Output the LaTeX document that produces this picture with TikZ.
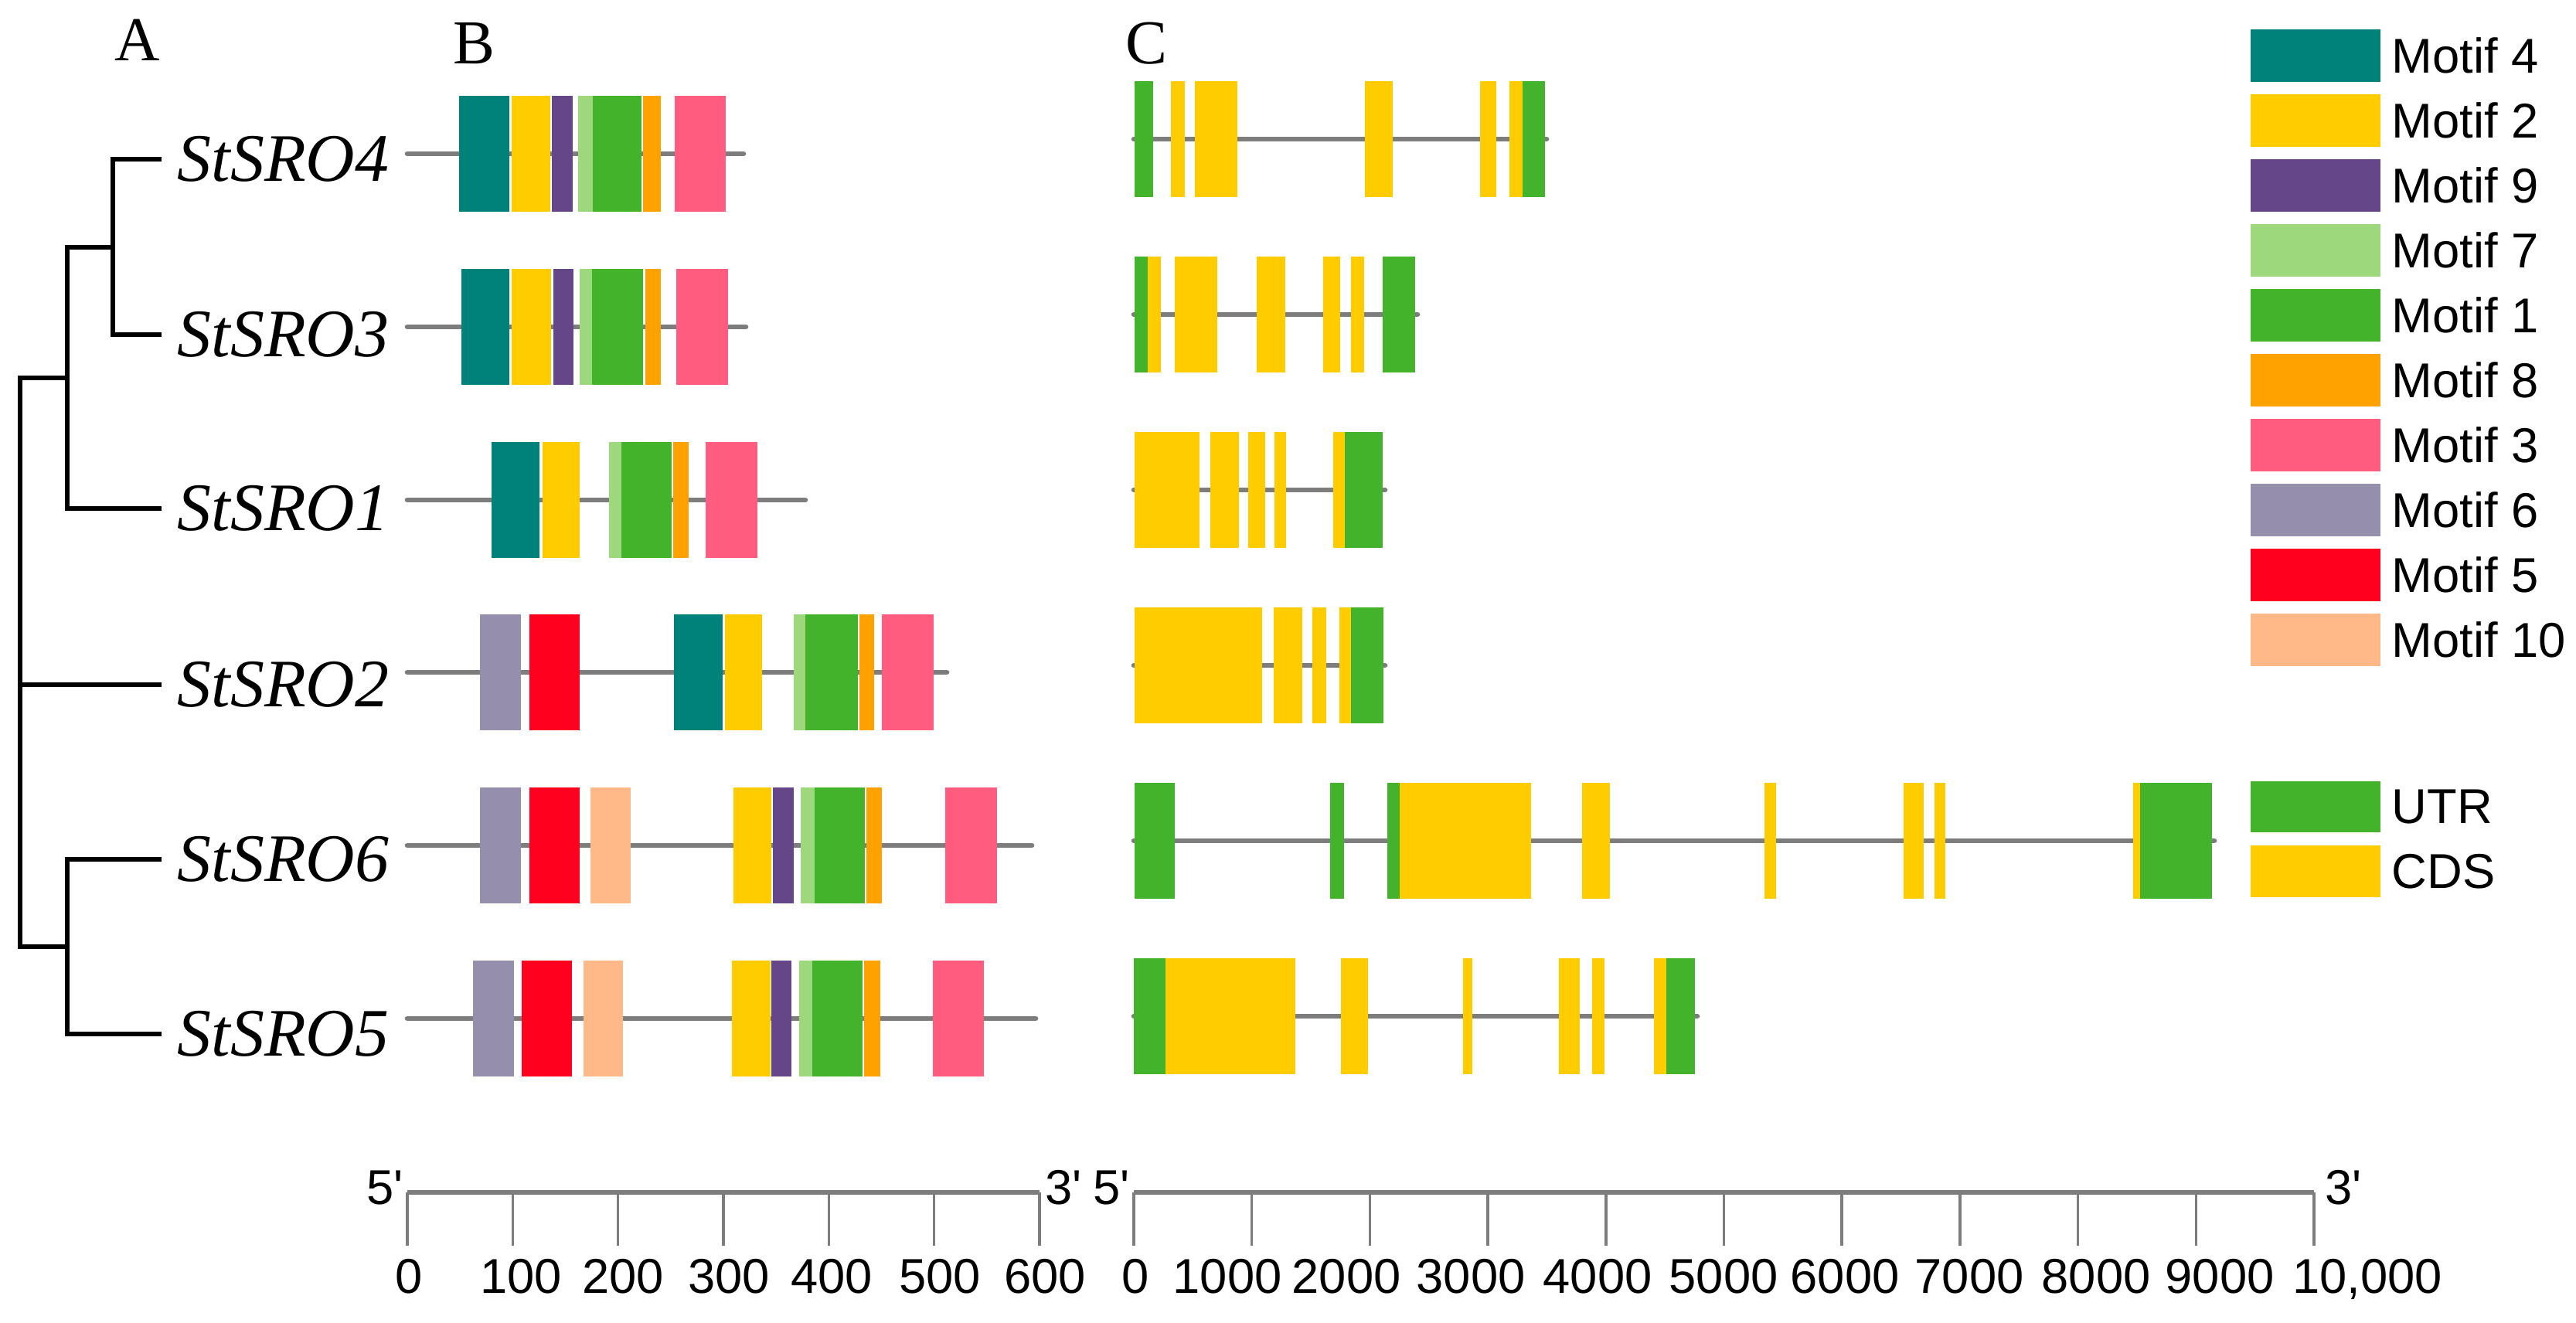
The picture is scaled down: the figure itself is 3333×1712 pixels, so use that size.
\documentclass[tikz,border=0pt]{standalone}
\usepackage{fontspec}
\setmainfont{Liberation Serif}
\setsansfont{Liberation Sans}

\definecolor{motif1}{RGB}{66,179,42}
\definecolor{motif2}{RGB}{255,204,0}
\definecolor{motif3}{RGB}{255,92,128}
\definecolor{motif4}{RGB}{0,130,122}
\definecolor{motif5}{RGB}{255,0,30}
\definecolor{motif6}{RGB}{149,142,172}
\definecolor{motif7}{RGB}{158,216,124}
\definecolor{motif8}{RGB}{255,162,0}
\definecolor{motif9}{RGB}{101,70,136}
\definecolor{motif10}{RGB}{255,185,137}
\definecolor{utr}{RGB}{66,179,42}
\definecolor{cds}{RGB}{255,204,0}
\definecolor{lineGray}{RGB}{125,125,125}

\begin{document}
\begin{tikzpicture}[x=0.01cm,y=-0.01cm,
    branch/.style={line width=1.6pt,line join=miter},
    gene label/.style={anchor=west,inner xsep=0.2cm,inner ysep=0pt,
        font=\fontsize{25}{30}\selectfont\itshape},
    gene line/.style={line width=1.9pt,lineGray,line cap=round},
    panel tag/.style={anchor=base,inner sep=0pt,font=\fontsize{23}{28}\selectfont},
    sans text/.style={inner sep=0pt,font=\fontsize{18}{22}\selectfont\sffamily},
    axis line/.style={line width=1.7pt,lineGray},
    tick line/.style={line width=1pt,lineGray}]

 \fill[white] (0,0) rectangle (3333,1712);
 \useasboundingbox (0,0) rectangle (3333,1712);

 % panel tags
 \node[panel tag] (tagA) at (178,78) {A};
 \node[panel tag] (tagB) at (613,82) {B};
 \node[panel tag] (tagC) at (1483,82) {C};

 % A: tree
 \node[gene label] (l4) at (209,206) {StSRO4};
 \node[gene label] (l3) at (209,433) {StSRO3};
 \node[gene label] (l1) at (209,658) {StSRO1};
 \node[gene label] (l2) at (209,886) {StSRO2};
 \node[gene label] (l6) at (209,1112) {StSRO6};
 \node[gene label] (l5) at (209,1338) {StSRO5};

 \coordinate (n43) at (146,320);
 \coordinate (n431) at (87,489);
 \coordinate (n65) at (87,1225);
 \coordinate (root) at (26,857);

 \draw[branch] (l4.west) -| (n43) |- (l3.west);
 \draw[branch] (n43) -| (n431) |- (l1.west);
 \draw[branch] (n431) -| (root) |- (n65);
 \draw[branch] (root |- l2.west) -- (l2.west);
 \draw[branch] (l6.west) -| (n65) |- (l5.west);

 % B: motifs
 \foreach \y/\e/\segs in {
   199/962/{594/659/motif4,662/712/motif2,714/741/motif9,748/767/motif7,767/830/motif1,832/855/motif8,873/939/motif3},
   423/965/{597/659/motif4,662/713/motif2,716/742/motif9,750/766/motif7,766/832/motif1,835/855/motif8,875/942/motif3},
   647/1042/{636/698/motif4,702/750/motif2,788/804/motif7,804/869/motif1,871/891/motif8,913/980/motif3},
   870/1225/{621/674/motif6,685/750/motif5,872/935/motif4,938/986/motif2,1027/1042/motif7,1042/1110/motif1,1112/1131/motif8,1141/1208/motif3},
   1094/1335/{621/674/motif6,685/750/motif5,764/816/motif10,949/998/motif2,1000/1027/motif9,1036/1054/motif7,1054/1119/motif1,1121/1141/motif8,1223/1290/motif3},
   1318/1340/{612/665/motif6,675/740/motif5,755/806/motif10,947/997/motif2,998/1024/motif9,1034/1051/motif7,1051/1116/motif1,1118/1139/motif8,1207/1273/motif3}}{
   \draw[gene line] (527,\y) -- (\e,\y);
   \foreach \a/\b/\c in \segs \fill[\c] (\a,\y-75) rectangle (\b,\y+75);
 }

 % C: exons and introns
 \foreach \y/\e/\segs in {
   180/2001/{1468/1492/utr,1515/1533/cds,1546/1601/cds,1766/1802/cds,1915/1936/cds,1953/1970/cds,1970/1999/utr},
   407/1834/{1468/1485/utr,1485/1502/cds,1520/1575/cds,1626/1663/cds,1712/1734/cds,1748/1765/cds,1789/1831/utr},
   634/1792/{1468/1552/cds,1566/1603/cds,1615/1637/cds,1649/1664/cds,1725/1740/cds,1740/1789/utr},
   861/1792/{1468/1633/cds,1648/1685/cds,1698/1716/cds,1733/1748/cds,1748/1790/utr},
   1088/2865/{1468/1520/utr,1721/1739/utr,1795/1811/utr,1811/1981/cds,2047/2083/cds,2283/2298/cds,2463/2489/cds,2503/2517/cds,2760/2769/cds,2769/2862/utr},
   1315/2196/{1467/1508/utr,1508/1676/cds,1735/1770/cds,1893/1905/cds,2017/2044/cds,2060/2076/cds,2140/2156/cds,2156/2193/utr}}{
   \draw[gene line] (1467,\y) -- (\e,\y);
   \foreach \a/\b/\c in \segs \fill[\c] (\a,\y-75) rectangle (\b,\y+75);
 }

 % legend
 \foreach \name/\col [count=\i from 0] in {Motif 4/motif4,Motif 2/motif2,Motif 9/motif9,
     Motif 7/motif7,Motif 1/motif1,Motif 8/motif8,Motif 3/motif3,Motif 6/motif6,
     Motif 5/motif5,Motif 10/motif10}{
   \fill[\col] (2912,38+84*\i) rectangle (3080,106+84*\i);
   \node[sans text,anchor=west] (leg\i) at (3094,72+84*\i) {\name};
 }
 \fill[utr] (2912,1011) rectangle (3080,1077);
 \node[sans text,anchor=west] (legutr) at (3094,1044) {UTR};
 \fill[cds] (2912,1094) rectangle (3080,1161);
 \node[sans text,anchor=west] (legcds) at (3094,1128) {CDS};

 % scales
 \draw[axis line] (527,1543) -- (1345,1543);
 \foreach \k in {0,...,6}
   \draw[tick line] (527+136.33*\k,1543) -- (527+136.33*\k,1612);
 \foreach \v/\x in {0/529,100/674,200/806,300/943,400/1076,500/1216,600/1352}
   \node[sans text,anchor=base] (sb\v) at (\x,1673) {\v};
 \node[sans text,anchor=base east] (sb5) at (522,1558) {5\textquotesingle};
 \node[sans text,anchor=base west] (sb3) at (1352,1558) {3\textquotesingle};

 \draw[axis line] (1467,1543) -- (2994,1543);
 \foreach \k in {0,...,10}
   \draw[tick line] (1467+152.7*\k,1543) -- (1467+152.7*\k,1612);
 \foreach \v/\x in {0/1469,1000/1588,2000/1742,3000/1903,4000/2067,5000/2230,
     6000/2387,7000/2548,8000/2712,9000/2872,{10,000}/3063}
   \node[sans text,anchor=base] (sc\x) at (\x,1673) {\v};
 \node[sans text,anchor=base east] (sc5) at (1462,1558) {5\textquotesingle};
 \node[sans text,anchor=base west] (sc3) at (3008,1558) {3\textquotesingle};
\end{tikzpicture}
\end{document}
